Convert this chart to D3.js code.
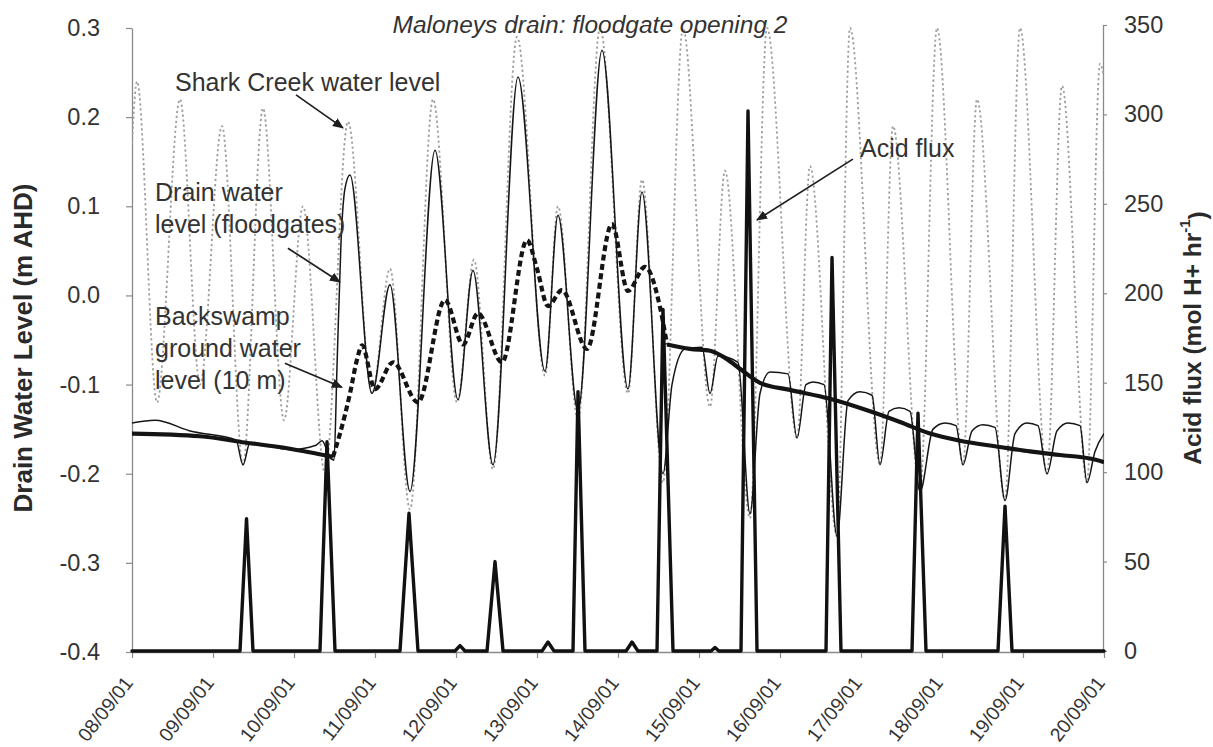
<!DOCTYPE html>
<html>
<head>
<meta charset="utf-8">
<script src="https://cdn.jsdelivr.net/npm/d3@7"></script>
<style>
  html, body { margin: 0; padding: 0; background: #fff; }
  svg { display: block; font-family: "Liberation Sans", Arial, Helvetica, sans-serif; }
</style>
</head>
<body>
<svg id="chart" width="1213" height="747"></svg>
<script>
// Times are hours after 08/09/01 00:00. Levels in m AHD, flux in mol H+ per hour.
const startDate = new Date(2001, 8, 8);
const dayLabels = ["08/09/01", "09/09/01", "10/09/01", "11/09/01", "12/09/01", "13/09/01", "14/09/01",
                   "15/09/01", "16/09/01", "17/09/01", "18/09/01", "19/09/01", "20/09/01"];
const levelTicks = [-0.4, -0.3, -0.2, -0.1, 0.0, 0.1, 0.2, 0.3];
const levelLabels = ["-0.4", "-0.3", "-0.2", "-0.1", "0.0", "0.1", "0.2", "0.3"];
const fluxTicks = [0, 50, 100, 150, 200, 250, 300, 350];

// Period during which the floodgates were held open (hours)
const floodgateOpenHours = [59.56, 158.52];

// Shark Creek (tidal) water level: turning points
const sharkCreekLevel = [
  [0, 0.17], [1.48, 0.24], [7.41, -0.12], [14.22, 0.22], [20.15, -0.10], [26.67, 0.19],
  [32.89, -0.19], [38.81, 0.21], [45.04, -0.14], [50.67, 0.10], [57.19, -0.20], [64.0, 0.195],
  [71.11, -0.11], [76.44, 0.03], [82.37, -0.24], [89.19, 0.22], [96.30, -0.12], [101.33, 0.04],
  [106.96, -0.195], [114.07, 0.29], [122.37, -0.09], [126.22, 0.10], [132.15, -0.14], [138.67, 0.30],
  [146.96, -0.11], [151.11, 0.13], [157.33, -0.21], [163.26, 0.30], [171.26, -0.125], [175.70, 0.14],
  [183.11, -0.25], [188.15, 0.30], [197.04, -0.16], [200.89, 0.145], [208.89, -0.27], [212.74, 0.30],
  [221.63, -0.19], [225.48, 0.19], [233.48, -0.22], [238.52, 0.30], [246.22, -0.19], [250.37, 0.22],
  [258.67, -0.23], [263.11, 0.30], [271.11, -0.20], [275.56, 0.235], [282.96, -0.21], [286.81, 0.26],
  [288, 0.245]
];

// Drain water level at the floodgates
const drainLevel = [
  [0, -0.143], [6.81, -0.140], [17.19, -0.152], [30.81, -0.162], [32.89, -0.19], [34.96, -0.165],
  [46.81, -0.173], [54.52, -0.168], [56.30, -0.163], [58.67, -0.182], [59.85, -0.185], [60.74, -0.08],
  [61.93, 0.06], [63.11, 0.12], [64.59, 0.135], [71.11, -0.11], [76.44, 0.012], [82.37, -0.22],
  [89.78, 0.163], [96.59, -0.117], [101.04, 0.028], [106.96, -0.19], [114.37, 0.245], [122.37, -0.085],
  [126.22, 0.09], [132.15, -0.13], [139.26, 0.275], [146.96, -0.105], [151.11, 0.116], [157.33, -0.20],
  [160.0, -0.10], [163.85, -0.06], [168.89, -0.058], [171.26, -0.11], [173.63, -0.068], [179.56, -0.075],
  [183.11, -0.245], [186.07, -0.11], [189.04, -0.086], [194.37, -0.088], [197.04, -0.16], [199.70, -0.10],
  [201.78, -0.097], [205.04, -0.10], [208.89, -0.27], [212.15, -0.118], [215.70, -0.108], [219.26, -0.112],
  [221.63, -0.19], [224.30, -0.13], [227.26, -0.126], [230.52, -0.13], [233.48, -0.22], [237.33, -0.15],
  [240.89, -0.143], [244.15, -0.146], [246.22, -0.19], [248.89, -0.152], [252.15, -0.145], [255.70, -0.148],
  [258.67, -0.23], [261.63, -0.155], [265.19, -0.143], [268.44, -0.146], [271.11, -0.20], [274.07, -0.152],
  [277.33, -0.143], [280.89, -0.146], [282.96, -0.21], [285.33, -0.175], [288, -0.155]
];

// Backswamp ground water level, 10 m from the drain
const backswampLevel = [
  [0, -0.155], [20.15, -0.158], [33.48, -0.165], [46.81, -0.172], [59.56, -0.181], [61.63, -0.155],
  [64.59, -0.11], [66.67, -0.072], [68.15, -0.056], [72.0, -0.105], [77.33, -0.075], [84.74, -0.12],
  [92.74, -0.005], [98.07, -0.055], [102.52, -0.02], [109.63, -0.075], [117.04, 0.062], [120.0, 0.03],
  [123.26, -0.012], [127.41, 0.006], [134.81, -0.06], [142.22, 0.08], [146.96, 0.005], [152.0, 0.032],
  [156.44, -0.013], [158.52, -0.055], [165.33, -0.06], [171.26, -0.062], [175.70, -0.07], [180.74, -0.084],
  [186.07, -0.098], [194.96, -0.106], [206.81, -0.116], [218.67, -0.13], [227.56, -0.142], [236.44, -0.155],
  [245.33, -0.163], [257.19, -0.17], [266.07, -0.175], [274.96, -0.179], [283.85, -0.183], [288, -0.187]
];

// Acid flux from the drain
const acidFlux = [
  [0, 0], [32.0, 0], [33.93, 74], [35.85, 0], [55.70, 0], [57.78, 117], [60.15, 0],
  [79.41, 0], [82.07, 77], [84.74, 0], [95.70, 0], [97.19, 3], [98.67, 0],
  [105.19, 0], [107.56, 50], [109.93, 0], [121.5, 0], [123.26, 5], [125.04, 0],
  [130.67, 0], [132.15, 145], [134.22, 0], [146.4, 0], [148.15, 5], [149.9, 0],
  [155.56, 0], [157.33, 191], [160.30, 0], [171.6, 0], [172.74, 2], [173.9, 0],
  [180.44, 0], [182.52, 302], [185.19, 0], [205.63, 0], [207.41, 220], [210.07, 0],
  [231.11, 0], [232.89, 133], [235.26, 0], [256.59, 0], [258.67, 81], [260.74, 0], [288, 0]
];

// ---------------------------------------------------------------------------
const svg = d3.select("#chart");
const hourMs = 3600 * 1000;
const toDate = h => new Date(startDate.getTime() + h * hourMs);

const plot = { left: 132, right: 1104, top: 28, bottom: 652 };

const x = d3.scaleTime()
  .domain([startDate, toDate(288)])
  .range([plot.left, plot.right]);
const yLevel = d3.scaleLinear().domain([-0.4, 0.3]).range([plot.bottom, plot.top]);
const yFlux = d3.scaleLinear().domain([0, 350]).range([651, 25]);

const defs = svg.append("defs");
defs.append("clipPath").attr("id", "plotClip")
  .append("rect")
  .attr("x", plot.left).attr("y", plot.top - 6)
  .attr("width", plot.right - plot.left).attr("height", plot.bottom - plot.top + 8);

defs.append("marker")
  .attr("id", "arrowHead")
  .attr("viewBox", "0 0 10 10")
  .attr("refX", 9).attr("refY", 5)
  .attr("markerWidth", 6.5).attr("markerHeight", 6.5)
  .attr("orient", "auto")
  .append("path").attr("d", "M0,0.8 L10,5 L0,9.2 z").attr("fill", "#1e1e1e");

const textColor = "#333";

// --- axes -------------------------------------------------------------------
const leftAxis = svg.append("g")
  .attr("transform", `translate(${plot.left},0)`)
  .call(d3.axisLeft(yLevel).tickValues(levelTicks)
    .tickFormat((d, i) => levelLabels[i]).tickSize(6).tickSizeOuter(0).tickPadding(26));

const rightAxis = svg.append("g")
  .attr("transform", `translate(${plot.right - 1},0)`)
  .call(d3.axisRight(yFlux).tickValues(fluxTicks).tickSize(4).tickSizeOuter(0).tickPadding(17));

const dayTicks = dayLabels.map((_, i) => d3.timeDay.offset(startDate, i));
const bottomAxis = svg.append("g")
  .attr("transform", `translate(0,${plot.bottom})`)
  .call(d3.axisBottom(x).tickValues(dayTicks)
    .tickFormat((d, i) => dayLabels[i]).tickSize(6).tickSizeOuter(0));

[leftAxis, rightAxis, bottomAxis].forEach(g => {
  g.select(".domain").attr("stroke", "#8a8a8a").attr("stroke-width", 1.3);
  g.selectAll(".tick line").attr("stroke", "#8a8a8a").attr("stroke-width", 1.2);
  g.selectAll(".tick text")
    .attr("fill", textColor)
    .style("font-size", "23.5px");
});

bottomAxis.selectAll(".tick text")
  .attr("text-anchor", "end")
  .attr("dy", "0.35em")
  .attr("y", 0)
  .attr("transform", "translate(-4,27) rotate(-52)")
  .style("font-size", "19.5px");

// --- series -----------------------------------------------------------------
const lineLevel = d3.line()
  .x(d => x(toDate(d[0])))
  .y(d => yLevel(d[1]))
  .curve(d3.curveMonotoneX);

const plotG = svg.append("g").attr("clip-path", "url(#plotClip)");

// Shark Creek tide
plotG.append("path")
  .datum(sharkCreekLevel)
  .attr("d", lineLevel)
  .attr("fill", "none")
  .attr("stroke", "#9c9c9c")
  .attr("stroke-width", 1.8)
  .attr("stroke-dasharray", "2.2,2.8");

// Drain water level
plotG.append("path")
  .datum(drainLevel)
  .attr("d", lineLevel)
  .attr("fill", "none")
  .attr("stroke", "#151515")
  .attr("stroke-width", 1.5)
  .attr("stroke-linejoin", "round");

// Backswamp ground water: dashed while the gates are open
const [gOpen, gClose] = floodgateOpenHours;
const bsSegments = [
  { pts: backswampLevel.filter(d => d[0] <= gOpen), dash: null },
  { pts: backswampLevel.filter(d => d[0] >= gOpen && d[0] <= gClose), dash: "6,3.5" },
  { pts: backswampLevel.filter(d => d[0] >= gClose), dash: null }
];
bsSegments.forEach(s => {
  plotG.append("path")
    .datum(s.pts)
    .attr("d", lineLevel)
    .attr("fill", "none")
    .attr("stroke", "#141414")
    .attr("stroke-width", 4.2)
    .attr("stroke-dasharray", s.dash);
});

// Acid flux (right axis)
const lineFlux = d3.line()
  .x(d => x(toDate(d[0])))
  .y(d => yFlux(d[1]));

svg.append("path")
  .datum(acidFlux)
  .attr("d", lineFlux)
  .attr("fill", "none")
  .attr("stroke", "#111")
  .attr("stroke-width", 3.4)
  .attr("stroke-linejoin", "round")
  .attr("stroke-linecap", "round");

// --- titles -----------------------------------------------------------------
svg.append("text")
  .attr("x", 590).attr("y", 33)
  .attr("text-anchor", "middle")
  .attr("fill", textColor)
  .style("font-size", "24.5px")
  .style("font-style", "italic")
  .text("Maloneys drain: floodgate opening 2");

svg.append("text")
  .attr("transform", "translate(23,348) rotate(-90)")
  .attr("text-anchor", "middle")
  .attr("dominant-baseline", "central")
  .attr("fill", "#2a2a2a")
  .style("font-size", "26px")
  .style("font-weight", "bold")
  .text("Drain Water Level (m AHD)");

const fluxTitle = svg.append("text")
  .attr("transform", "translate(1192,338) rotate(-90)")
  .attr("text-anchor", "middle")
  .attr("dominant-baseline", "central")
  .attr("fill", "#2a2a2a")
  .style("font-size", "24.5px")
  .style("font-weight", "bold");
fluxTitle.append("tspan").text("Acid flux (mol H+ hr");
fluxTitle.append("tspan").attr("dy", "-0.55em").style("font-size", "15px").text("-1");
fluxTitle.append("tspan").attr("dy", "0.55em").text(")");

// --- annotations ------------------------------------------------------------
const annFont = "25px";
function label(lines, x0, y0, step) {
  const t = svg.append("text").attr("fill", textColor).style("font-size", annFont);
  lines.forEach((s, i) => t.append("tspan").attr("x", x0).attr("y", y0 + i * step).text(s));
}
label(["Shark Creek water level"], 175, 91, 0);
label(["Drain water", "level (floodgates)"], 155, 201, 32);
label(["Backswamp", "ground water", "level (10 m)"], 155, 325, 32);
label(["Acid flux"], 860, 157, 0);

function arrow(h0, v0, h1, v1, yScale) {
  svg.append("line")
    .attr("x1", x(toDate(h0))).attr("y1", yScale(v0))
    .attr("x2", x(toDate(h1))).attr("y2", yScale(v1))
    .attr("stroke", "#1e1e1e")
    .attr("stroke-width", 1.7)
    .attr("marker-end", "url(#arrowHead)");
}
arrow(48.6, 0.225, 62.5, 0.188, yLevel);
arrow(46.2, 0.053, 61.6, 0.015, yLevel);
arrow(45.3, -0.076, 62.2, -0.103, yLevel);
arrow(213.6, 275, 185.2, 241, yFlux);
</script>
</body>
</html>
